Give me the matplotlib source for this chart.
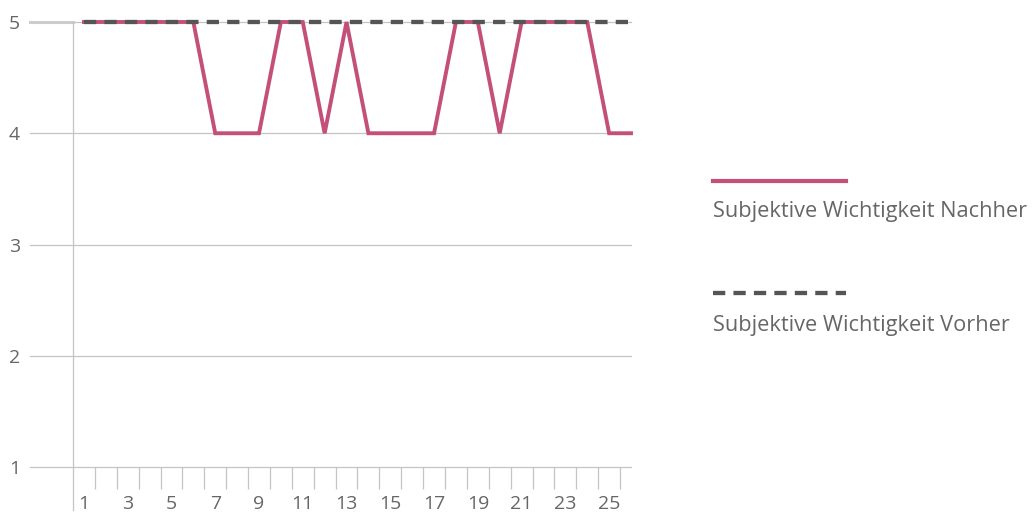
import matplotlib.pyplot as plt
import numpy as np
from matplotlib.lines import Line2D

plt.rcParams['font.family'] = ['Open Sans', 'DejaVu Sans']

# Daten
tage = list(range(1, 27))
nachher = [5, 5, 5, 5, 5, 5, 4, 4, 4, 5, 5, 4, 5, 4, 4, 4, 4, 5, 5, 4, 5, 5, 5, 5, 4, 4]
vorher = [5] * 26
y_ticks = [1, 2, 3, 4, 5]
x_labels = [1, 3, 5, 7, 9, 11, 13, 15, 17, 19, 21, 23, 25]

pink = '#c4507a'
dunkel = '#555555'
grau_text = '#666666'
grau_linie = '#c4c4c4'

W, H = 1032, 522
fig = plt.figure(figsize=(W / 100, H / 100), dpi=100)
ax = fig.add_axes([73 / W, 1 - 467 / H, (631 - 73) / W, (467 - 22) / H])

ax.plot(tage, nachher, color=pink, lw=2.8, solid_joinstyle='miter', zorder=3,
        clip_on=False)
ax.plot(tage, vorher, color=dunkel, lw=3.1, dashes=(2.85, 1.9), zorder=4,
        clip_on=False)

ax.set_xlim(0.5, 26)
ax.set_ylim(1, 5)

for s in ax.spines.values():
    s.set_visible(False)

# Gitterlinien, nach links verlängert
trans = ax.get_yaxis_transform()
x_links = (30 - 73) / (631 - 73)
for y in y_ticks:
    ax.plot([x_links, 1], [y, y], transform=trans, color=grau_linie, lw=0.9,
            clip_on=False, zorder=1)
ax.plot([x_links, 0], [5, 5], transform=trans, color='#cccccc', lw=2.2,
        clip_on=False, zorder=1)

# linke Achse, nach unten verlängert
ax.plot([0.5, 0.5], [1 - 43 / 111.25, 5], color=grau_linie, lw=0.9,
        clip_on=False, zorder=1)

ax.set_yticks(y_ticks)
ax.set_yticklabels([str(v) for v in y_ticks])
ax.tick_params(axis='y', length=0, pad=46, labelsize=14, labelcolor=grau_text)
for lab in ax.get_yticklabels():
    lab.set_horizontalalignment('left')

ax.set_xticks(x_labels)
ax.set_xticklabels([str(v) for v in x_labels])
ax.set_xticks(np.arange(1.5, 26, 1), minor=True)
ax.tick_params(axis='x', which='major', length=0, pad=20, labelsize=14,
               labelcolor=grau_text)
ax.tick_params(axis='x', which='minor', length=16, width=0.9, color=grau_linie,
               direction='out')

# Legende rechts
fig.add_artist(Line2D([713 / W, 846 / W], [1 - 181 / H, 1 - 181 / H], color=pink, lw=3.0))
fig.text(713 / W, 1 - 212 / H, 'Subjektive Wichtigkeit Nachher', color=grau_text,
         fontsize=15.7, va='center', ha='left')
fig.add_artist(Line2D([713 / W, 846 / W], [1 - 293 / H, 1 - 293 / H], color=dunkel,
                      lw=3.1, dashes=(2.85, 1.9)))
fig.text(713 / W, 1 - 325 / H, 'Subjektive Wichtigkeit Vorher', color=grau_text,
         fontsize=15.7, va='center', ha='left')

fig.savefig('out.png', dpi=100)
